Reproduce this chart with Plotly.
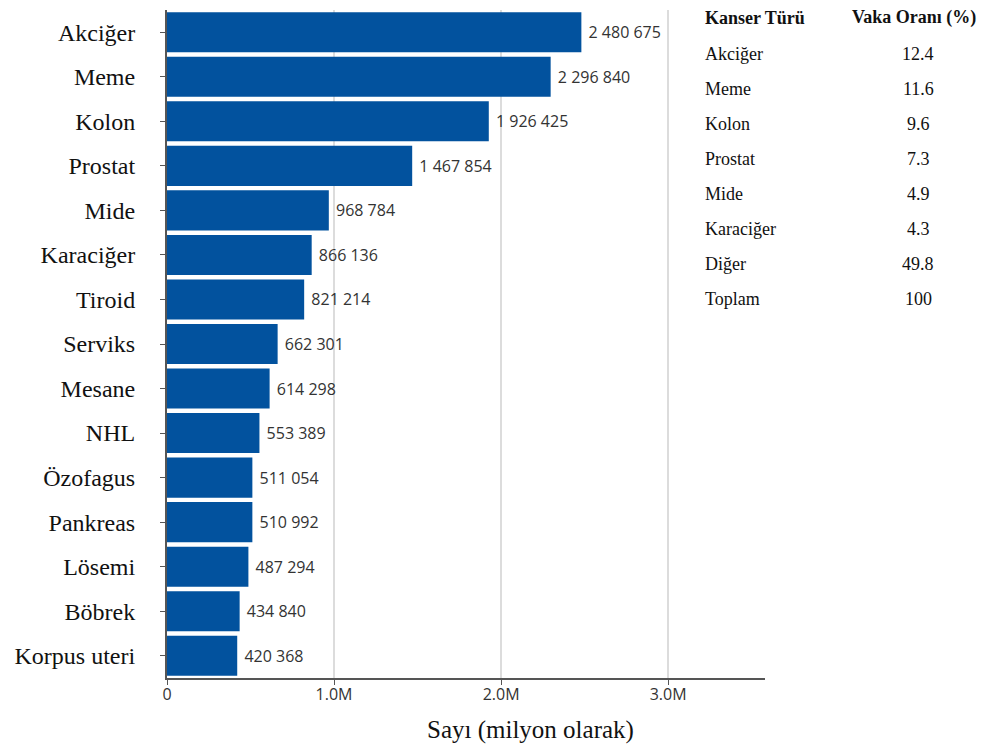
import plotly.graph_objects as go

# Cancer types and case counts
cancer_types = ["Akciğer", "Meme", "Kolon", "Prostat", "Mide", "Karaciğer", "Tiroid",
                "Serviks", "Mesane", "NHL", "Özofagus", "Pankreas", "Lösemi", "Böbrek",
                "Korpus uteri"]
case_counts = [2480675, 2296840, 1926425, 1467854, 968784, 866136, 821214,
               662301, 614298, 553389, 511054, 510992, 487294, 434840, 420368]

# Side table: share of cases
table_types = ["Akciğer", "Meme", "Kolon", "Prostat", "Mide", "Karaciğer", "Diğer", "Toplam"]
table_rates = ["12.4", "11.6", "9.6", "7.3", "4.9", "4.3", "49.8", "100"]

x_tickvals = [0, 1e6, 2e6, 3e6]
x_ticktext = ["0", "1.0M", "2.0M", "3.0M"]

SERIF = "Liberation Serif"
SANS = "Open Sans"

# value labels with a space as thousands separator
labels = ["\u00a0" + f"{v:,}".replace(",", " ") for v in case_counts]

fig = go.Figure(go.Bar(
    x=case_counts,
    y=cancer_types,
    orientation="h",
    marker=dict(color="#02529e", line=dict(width=0)),
    text=labels,
    textposition="outside",
    textfont=dict(family=SANS, size=16, color="#333333"),
    cliponaxis=False,
    width=0.9,
))

fig.update_layout(
    width=985, height=746,
    margin=dict(l=167, r=220, t=10, b=68),
    plot_bgcolor="white", paper_bgcolor="white",
    showlegend=False,
    xaxis=dict(
        range=[0, 3.58e6],
        tickvals=x_tickvals, ticktext=x_ticktext,
        tickfont=dict(family=SANS, size=16, color="#333333"),
        showgrid=True, gridcolor="#dcdcdc", gridwidth=1.5,
        zeroline=False,
        showline=True, linecolor="#555555", linewidth=2,
        ticks="outside", ticklen=5, tickcolor="#555555",
        ticklabelstandoff=-4,
    ),
    yaxis=dict(
        categoryorder="array", categoryarray=cancer_types,
        autorange="reversed",
        range=[-0.5, 14.5],
        tickfont=dict(family=SERIF, size=24, color="#111111"),
        showline=True, linecolor="#555555", linewidth=2,
        ticks="outside", ticklen=5, tickcolor="#555555",
        ticklabelstandoff=20,
        showgrid=False, zeroline=False,
    ),
)

def px_x(px):
    return (px - 167) / (765 - 167)

def px_y(py):
    return (678 - py) / (678 - 10)

# x-axis title
fig.add_annotation(text="Sayı (milyon olarak)", xref="paper", yref="paper",
                   x=px_x(530), y=px_y(730),
                   xanchor="center", yanchor="middle", showarrow=False,
                   font=dict(family=SERIF, size=25, color="#111111"))

# Side table
TABLE_FONT = dict(family=SERIF, size=18, color="#111111")
fig.add_annotation(text="<b>Kanser Türü</b>", xref="paper", yref="paper",
                   x=px_x(703), y=px_y(18), xanchor="left", yanchor="middle",
                   showarrow=False, font=TABLE_FONT)
fig.add_annotation(text="<b>Vaka Oranı (%)</b>", xref="paper", yref="paper",
                   x=px_x(978), y=px_y(18), xanchor="right", yanchor="middle",
                   showarrow=False, font=TABLE_FONT)
for i, (name, rate) in enumerate(zip(table_types, table_rates)):
    yy = px_y(54 + 35 * i)
    fig.add_annotation(text=name, xref="paper", yref="paper",
                       x=px_x(703), y=yy, xanchor="left", yanchor="middle",
                       showarrow=False, font=TABLE_FONT)
    fig.add_annotation(text=rate, xref="paper", yref="paper",
                       x=px_x(918), y=yy, xanchor="center", yanchor="middle",
                       showarrow=False, font=TABLE_FONT)

fig.write_html("out.html")
